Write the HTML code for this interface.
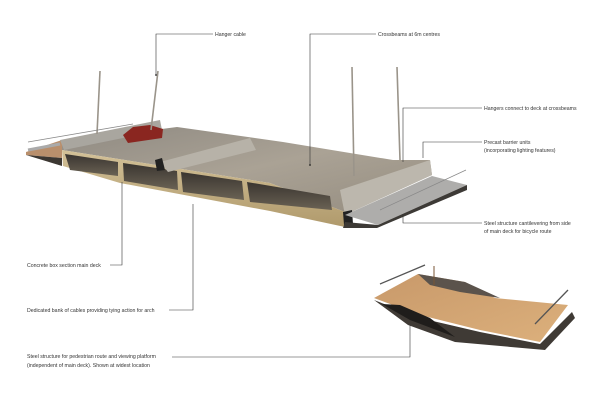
<!DOCTYPE html>
<html><head><style>
html,body{margin:0;padding:0;background:#fff;width:600px;height:412px;overflow:hidden}
svg{display:block}
text{font-family:"Liberation Sans",sans-serif;font-size:5.2px;fill:#333}
</style></head><body>
<svg width="600" height="412" viewBox="0 0 600 412">
<defs>
<linearGradient id="top" x1="0" y1="0" x2="1" y2="1"><stop offset="0" stop-color="#8f8a82"/><stop offset="0.5" stop-color="#aaa295"/><stop offset="1" stop-color="#958d80"/></linearGradient>
<linearGradient id="tan" x1="0" y1="0" x2="0" y2="1"><stop offset="0" stop-color="#d3c198"/><stop offset="1" stop-color="#b09a6c"/></linearGradient>
<linearGradient id="wood" x1="0" y1="0" x2="1" y2="1"><stop offset="0" stop-color="#c8996a"/><stop offset="1" stop-color="#dcb07c"/></linearGradient>
<linearGradient id="cell" x1="0" y1="0" x2="0" y2="1"><stop offset="0" stop-color="#3a3530"/><stop offset="1" stop-color="#6a6254"/></linearGradient>
</defs>
<polygon points="26,152 62,140 62,158 26,155" fill="#b98f6c"/>
<polygon points="26,155 62,158 62,166" fill="#3c3732"/>
<polygon points="62,142 177,127 283,142 393,160 430,160 432,175 345,212 270,183 62,150" fill="url(#top)"/>
<polygon points="62,150 270,183 345,212 345,227 270,211 120,183 63,166" fill="url(#tan)"/>
<polygon points="65,154 118,162 118,176 70,170" fill="url(#cell)"/>
<polygon points="123,163 177,171 178,190 124,181" fill="url(#cell)"/>
<polygon points="181,172 242,181 244,200 183,192" fill="url(#cell)"/>
<polygon points="247,182 330,196 332,210 250,202" fill="url(#cell)"/>
<polygon points="60,140 160,120 162,130 64,150" fill="#a9a69f"/>
<polygon points="160,162 250,138 256,150 168,172" fill="#b7b2a8"/>
<polygon points="155,160 162,158 165,170 157,171" fill="#222"/>
<polygon points="340,190 430,160 432,175 345,215" fill="#bcb7ad"/>
<polygon points="343,212 352,210 353,224 344,225" fill="#222"/>
<polygon points="345,215 432,176 467,185 378,225" fill="#aeadab"/>
<polygon points="345,222 378,225 467,185 467,190 377,228 343,228" fill="#3d3a36"/>
<line x1="380" y1="210" x2="466" y2="170" stroke="#888" stroke-width="0.7"/>
<polygon points="123,135 133,127 150,125 163,129 162,138 128,143" fill="#8a2620"/>
<line x1="100" y1="71" x2="97" y2="134" stroke="#9a948a" stroke-width="1.6"/>
<line x1="158" y1="71" x2="151" y2="130" stroke="#9a948a" stroke-width="1.6"/>
<line x1="352" y1="67" x2="354" y2="176" stroke="#9a948a" stroke-width="1.6"/>
<line x1="397" y1="67" x2="400" y2="160" stroke="#9a948a" stroke-width="1.6"/>
<line x1="28" y1="142" x2="133" y2="124" stroke="#888" stroke-width="0.8"/>
<line x1="28" y1="150" x2="60" y2="144" stroke="#aaa" stroke-width="3"/>
<polygon points="374,298 418,274 465,282 495,298 568,305 540,342 480,330 420,315" fill="url(#wood)"/>
<polygon points="418,274 465,282 500,298 460,292 430,285" fill="#5b534c"/>
<polygon points="374,300 420,318 480,332 540,344 572,312 575,318 545,350 455,342 408,325" fill="#3f3a35"/>
<polygon points="382,304 410,320 455,337 430,318 400,305" fill="#1f1d1b"/>
<line x1="380" y1="284" x2="425" y2="265" stroke="#555" stroke-width="1.3"/>
<line x1="535" y1="324" x2="568" y2="290" stroke="#555" stroke-width="1.3"/>
<line x1="434" y1="266" x2="434" y2="285" stroke="#7a5535" stroke-width="1"/>
<g stroke="#333" stroke-width="0.6" fill="none">
<polyline points="213,34 156,34 156,75"/>
<polyline points="376,34 310,34 310,165"/>
<polyline points="482,108 403,108 403,162"/>
<polyline points="482,142 423,142 423,158"/>
<polyline points="482,223 403,223 403,214"/>
<polyline points="110,265 122,265 122,182"/>
<polyline points="169,310 193,310 193,204"/>
<polyline points="172,357 410,357 410,325"/>
</g>
<circle cx="156" cy="75" r="0.9" fill="#222"/>
<circle cx="310" cy="165" r="0.9" fill="#222"/>
<text x="215" y="36">Hanger cable</text>
<text x="378" y="36">Crossbeams at 6m centres</text>
<text x="484" y="110">Hangers connect to deck at crossbeams</text>
<text x="484" y="144">Precast barrier units</text>
<text x="484" y="152">(incorporating lighting features)</text>
<text x="484" y="225">Steel structure cantilevering from side</text>
<text x="484" y="233">of main deck for bicycle route</text>
<text x="27" y="267">Concrete box section main deck</text>
<text x="27" y="312">Dedicated bank of cables providing tying action for arch</text>
<text x="27" y="358">Steel structure for pedestrian route and viewing platform</text>
<text x="27" y="367">(independent of main deck). Shown at widest location</text>
</svg>
</body></html>
